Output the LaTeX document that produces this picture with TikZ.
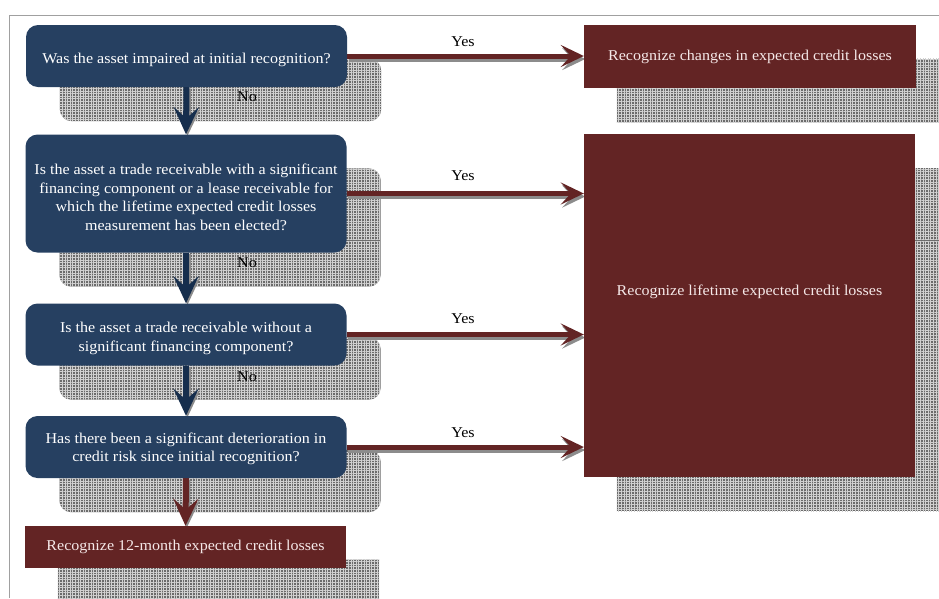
\documentclass[tikz,border=0pt]{standalone}
\usepackage{fontspec}
\setmainfont{Liberation Serif}[FakeStretch=1.07]
\usetikzlibrary{arrows.meta,patterns.meta,backgrounds}
\definecolor{qblue}{RGB}{38,64,97}
\definecolor{ablue}{RGB}{22,46,77}
\definecolor{rbox}{RGB}{99,36,36}
\definecolor{rtext}{RGB}{245,232,232}
\definecolor{framegray}{RGB}{160,160,160}
\begin{document}
\begin{tikzpicture}[x=1pt,y=-1pt,
  font=\fontsize{15}{18.5}\selectfont,
  qbox/.style={fill=qblue, rounded corners=12pt,
    inner sep=0pt, minimum width=321pt, minimum height=62pt},
  qtext/.style={text=white, align=center, inner sep=0pt},
  rboxs/.style={fill=rbox, text=rtext, align=center, inner sep=0pt},
  shadowfill/.style={fill=black!58,
    postaction={pattern={Lines[angle=0,distance=2.6pt,line width=0.75pt]}, pattern color=black!18},
    postaction={pattern={Lines[angle=90,distance=2.6pt,line width=0.75pt]}, pattern color=black!18}},
  yesarrow/.style={draw=rbox, line width=5pt,
    -{Stealth[length=23pt,width=22pt,inset=10pt]}},
  yesshadow/.style={draw=black!45, line width=5pt,
    -{Stealth[length=23pt,width=22pt,inset=10pt]},
    transform canvas={shift={(1.5pt,-3pt)}}},
  downarrow/.style={draw=ablue, line width=6pt,
    -{Stealth[length=27pt,width=25pt,inset=11pt]}},
  downshadow/.style={draw=black!45, line width=6pt,
    -{Stealth[length=27pt,width=25pt,inset=11pt]},
    transform canvas={shift={(1.5pt,-1.5pt)}}},
  lbl/.style={text=black, inner sep=1pt}
]
\useasboundingbox (0,0) rectangle (939,598);

% question boxes
\node[qbox] (q1) at (186.5,56) {};
\node[qtext] (q1t) at ([yshift=-4pt]q1.center) {Was the asset impaired at initial recognition?};
\node[qbox, minimum height=118pt] (q2) at (186,193.5) {};
\node[qtext] (q2t) at ([yshift=-4pt]q2.center)
  {Is the asset a trade receivable with a significant\\
   financing component or a lease receivable for\\
   which the lifetime expected credit losses\\
   measurement has been elected?};
\node[qbox] (q3) at (186,334.5) {};
\node[qtext] (q3t) at ([yshift=-4pt]q3.center)
  {Is the asset a trade receivable without a\\
   significant financing component?};
\node[qbox] (q4) at (186,447) {};
\node[qtext] (q4t) at ([yshift=-2pt]q4.center)
  {Has there been a significant deterioration in\\
   credit risk since initial recognition?};

% result boxes
\node[rboxs, minimum width=321pt, minimum height=42pt] (r12) at (185.5,547)
  {Recognize 12-month expected credit losses};
\node[rboxs, minimum width=332pt, minimum height=63pt] (rc) at (750,56.5)
  {Recognize changes in expected credit losses};
\node[rboxs, minimum width=331pt, minimum height=343pt] (rl) at (749.5,305.5)
  {\raisebox{10pt}[0pt][0pt]{Recognize lifetime expected credit losses}};

% labels
\node[lbl] (no1) at (247,97) {No};
\node[lbl] (no2) at (247,263) {No};
\node[lbl] (no3) at (247,377) {No};
\node[lbl] (y1) at (463,42) {Yes};
\node[lbl] (y2) at (463,176) {Yes};
\node[lbl] (y3) at (463,319) {Yes};
\node[lbl] (y4) at (463,433) {Yes};

\begin{scope}[on background layer]
  \fill[white] (0,0) rectangle (939,598);
  \draw[framegray, line width=1.5pt] (9.5,598) -- (9.5,15.5) -- (939,15.5);
  % shadows
  \path[shadowfill, rounded corners=12pt] ([shift={(34,34)}]q1.north west) rectangle ([shift={(34,34)}]q1.south east);
  \path[shadowfill, rounded corners=12pt] ([shift={(34,34)}]q2.north west) rectangle ([shift={(34,34)}]q2.south east);
  \path[shadowfill, rounded corners=12pt] ([shift={(34,34)}]q3.north west) rectangle ([shift={(34,34)}]q3.south east);
  \path[shadowfill, rounded corners=12pt] ([shift={(34,34)}]q4.north west) rectangle ([shift={(34,34)}]q4.south east);
  \path[shadowfill] ([shift={(33,34)}]r12.north west) rectangle ([shift={(33,34)}]r12.south east);
  \path[shadowfill] ([shift={(33,34)}]rc.north west) rectangle ([shift={(33,34)}]rc.south east);
  \path[shadowfill] ([shift={(33,34)}]rl.north west) rectangle ([shift={(33,34)}]rl.south east);
  % yes arrows
  \draw[yesshadow] (q1.east) -- (q1.east -| rc.west);
  \draw[yesarrow] (q1.east) -- (q1.east -| rc.west);
  \draw[yesshadow] (q2.east) -- (q2.east -| rl.west);
  \draw[yesarrow] (q2.east) -- (q2.east -| rl.west);
  \draw[yesshadow] (q3.east) -- (q3.east -| rl.west);
  \draw[yesarrow] (q3.east) -- (q3.east -| rl.west);
  \draw[yesshadow] (q4.east) -- (q4.east -| rl.west);
  \draw[yesarrow] (q4.east) -- (q4.east -| rl.west);
  % no arrows
  \draw[downshadow] (q1.south) -- (q2.north);
  \draw[downarrow] (q1.south) -- (q2.north);
  \draw[downshadow] (q2.south) -- (q3.north);
  \draw[downarrow] (q2.south) -- (q3.north);
  \draw[downshadow] (q3.south) -- (q4.north);
  \draw[downarrow] (q3.south) -- (q4.north);
  \draw[downshadow] (q4.south) -- (r12.north);
  \draw[downarrow, draw=rbox] (q4.south) -- (r12.north);
\end{scope}
\end{tikzpicture}
\end{document}
